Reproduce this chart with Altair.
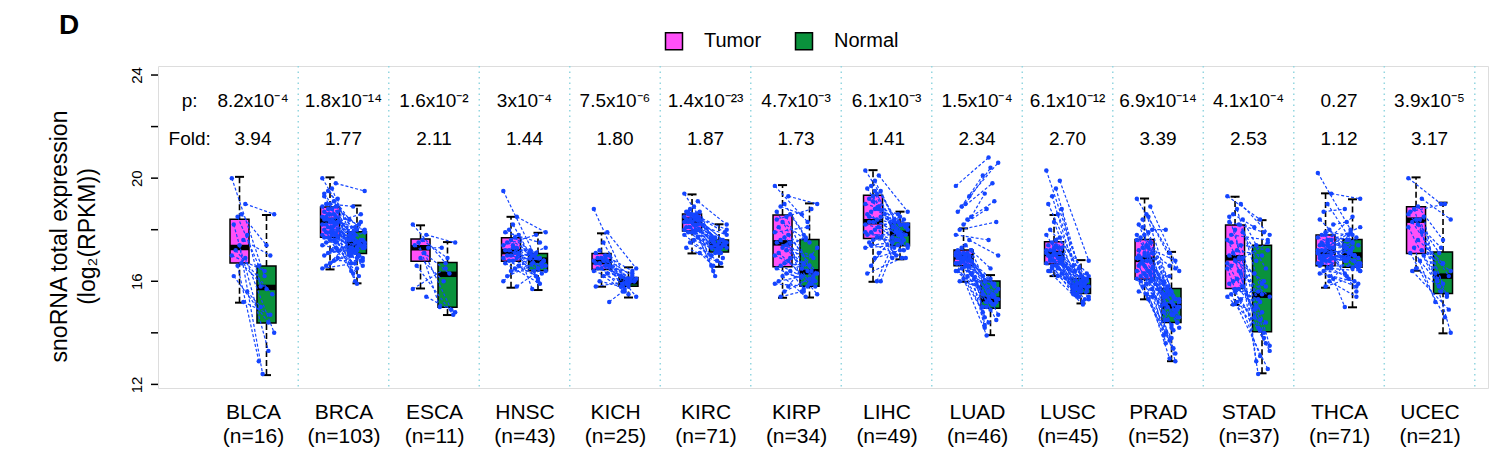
import altair as alt
import pandas as pd

# ---------------- data ----------------
CATS = ["BLCA", "BRCA", "ESCA", "HNSC", "KICH", "KIRC", "KIRP",
        "LIHC", "LUAD", "LUSC", "PRAD", "STAD", "THCA", "UCEC"]
NS = [16, 103, 11, 43, 25, 71, 34, 49, 46, 45, 52, 37, 71, 21]
P_TXT = ["8.2x10⁻⁴", "1.8x10⁻¹⁴", "1.6x10⁻²", "3x10⁻⁴", "7.5x10⁻⁶", "1.4x10⁻²³",
         "4.7x10⁻³", "6.1x10⁻³", "1.5x10⁻⁴", "6.1x10⁻¹²", "6.9x10⁻¹⁴", "4.1x10⁻⁴",
         "0.27", "3.9x10⁻⁵"]
FOLD_TXT = ["3.94", "1.77", "2.11", "1.44", "1.80", "1.87", "1.73",
            "1.41", "2.34", "2.70", "3.39", "2.53", "1.12", "3.17"]
Y_TICKS = [12, 14, 16, 18, 20, 22, 24]
Y_LABELED = [12, 16, 20, 24]
PANEL = "D"

# box statistics (whisker low, q1, median, q3, whisker high)
T_LO = [15.17, 16.46, 15.72, 15.75, 15.79, 17.08, 15.36, 15.98, 15.98, 16.20, 15.30, 15.08, 15.75, 16.41]
T_Q1 = [16.71, 17.71, 16.78, 16.78, 16.46, 17.95, 16.56, 17.66, 16.60, 16.67, 16.08, 15.72, 16.60, 17.08]
T_MED = [17.31, 18.36, 17.30, 17.15, 16.76, 18.37, 17.49, 18.31, 16.95, 17.08, 16.85, 16.91, 17.14, 18.37]
T_Q3 = [18.41, 18.88, 17.64, 17.69, 17.08, 18.61, 18.57, 19.34, 17.21, 17.53, 17.62, 18.18, 17.79, 18.89]
T_HI = [20.05, 20.03, 18.17, 18.50, 17.86, 19.37, 19.73, 20.31, 18.05, 18.57, 19.21, 19.28, 19.41, 20.03]
N_LO = [12.36, 15.92, 14.69, 15.66, 15.37, 16.56, 15.37, 16.85, 13.91, 15.14, 12.90, 12.43, 14.99, 13.98]
N_Q1 = [14.38, 17.08, 14.99, 16.41, 15.81, 17.14, 15.81, 17.38, 14.95, 15.53, 14.40, 14.04, 16.54, 15.53]
N_MED = [15.76, 17.43, 16.27, 16.82, 15.98, 17.40, 16.37, 17.86, 15.30, 15.79, 15.04, 15.46, 17.02, 16.20]
N_Q3 = [16.59, 17.92, 16.73, 17.08, 16.15, 17.60, 17.62, 18.25, 16.01, 16.11, 15.72, 17.40, 17.62, 17.14]
N_HI = [18.57, 18.94, 17.52, 17.88, 16.54, 18.21, 19.02, 18.70, 16.24, 16.82, 17.14, 18.37, 19.18, 19.05]

# paired samples (tumor, normal)
BLCA_T = [20.0, 19.0, 18.6, 18.5, 18.2, 17.8, 17.6, 17.4, 17.2, 17.0, 16.9, 16.7, 16.6, 16.2, 15.6, 15.2]
BLCA_N = [16.2, 18.6, 17.4, 16.6, 13.3, 15.8, 17.0, 12.4, 15.5, 16.4, 14.0, 15.7, 12.9, 14.4, 15.0, 14.7]
BRCA_T = [20.0, 19.8, 19.6, 19.5, 19.3, 19.2, 19.1, 19.0, 19.0, 18.9, 18.9, 18.8, 18.8, 18.7, 18.7,
          18.6, 18.6, 18.5, 18.5, 18.5, 18.4, 18.4, 18.4, 18.3, 18.3, 18.3, 18.2, 18.2, 18.2, 18.1,
          18.1, 18.0, 18.0, 17.9, 17.9, 17.9, 17.8, 17.8, 17.8, 17.7, 17.7, 17.7, 17.6, 17.6, 17.5,
          17.4, 17.3, 17.2, 17.1, 17.0, 16.9, 16.8, 16.7, 16.6, 16.5, 17.5, 18.0, 18.6, 19.4, 17.2]
BRCA_N = [17.8, 19.5, 17.2, 18.4, 17.0, 16.4, 17.6, 18.9, 17.3, 16.0, 17.9, 17.5, 17.1, 18.2, 16.7,
          17.4, 17.7, 16.9, 18.1, 17.3, 15.9, 17.6, 17.4, 17.0, 18.6, 17.2, 16.8, 17.5, 18.0, 17.3,
          17.1, 16.2, 17.7, 17.4, 17.9, 16.6, 17.2, 17.5, 16.5, 17.8, 17.0, 17.3, 18.3, 16.3, 17.6,
          17.1, 17.4, 16.9, 17.2, 17.5, 17.0, 16.8, 17.7, 17.3, 16.7, 17.9, 18.0, 17.6, 17.4, 17.1]
ESCA_T = [18.2, 17.8, 17.6, 17.5, 17.4, 17.3, 17.1, 16.9, 16.6, 15.7, 15.4]
ESCA_N = [16.7, 17.5, 16.9, 15.0, 16.3, 17.3, 14.9, 16.0, 14.7, 16.5, 14.8]
HNSC_T = [19.5, 18.5, 18.2, 18.0, 17.9, 17.8, 17.7, 17.6, 17.5, 17.4, 17.3, 17.3, 17.2, 17.2, 17.1,
          17.1, 17.0, 17.0, 16.9, 16.9, 16.8, 16.8, 16.7, 16.6, 16.5, 16.4, 16.2, 16.0, 15.8, 17.4]
HNSC_N = [16.9, 17.9, 16.5, 17.1, 17.5, 16.7, 16.3, 17.0, 16.8, 17.8, 16.4, 16.0, 17.2, 16.9, 15.7,
          16.6, 17.0, 16.8, 16.2, 17.3, 16.5, 16.9, 15.9, 17.0, 16.7, 16.4, 16.8, 17.1, 16.6, 16.1]
KICH_T = [18.8, 17.9, 17.5, 17.2, 17.1, 17.0, 17.0, 16.9, 16.9, 16.8, 16.8, 16.8, 16.7, 16.7, 16.6,
          16.6, 16.5, 16.5, 16.4, 16.3, 16.2, 16.0, 15.8, 15.2, 16.9]
KICH_N = [16.0, 16.5, 15.8, 16.2, 16.1, 15.9, 16.4, 15.7, 16.0, 16.1, 15.4, 15.9, 16.2, 16.0, 15.8,
          16.3, 15.6, 16.0, 15.9, 16.1, 15.5, 15.8, 16.0, 15.6, 16.2]
KIRC_T = [19.4, 19.1, 18.9, 18.8, 18.7, 18.7, 18.6, 18.6, 18.6, 18.5, 18.5, 18.5, 18.4, 18.4, 18.4,
          18.4, 18.3, 18.3, 18.3, 18.2, 18.2, 18.1, 18.1, 18.0, 18.0, 17.9, 17.9, 17.8, 17.7, 17.6,
          17.5, 17.3, 17.1, 18.5, 18.3, 18.7, 18.0, 18.4, 17.9, 18.6]
KIRC_N = [17.4, 18.2, 17.3, 17.6, 17.1, 17.5, 16.9, 17.7, 17.4, 17.2, 18.0, 17.5, 16.6, 17.3, 17.6,
          17.4, 16.2, 17.5, 17.2, 17.8, 17.3, 17.0, 17.6, 16.4, 17.4, 17.1, 17.5, 16.8, 17.3, 17.2,
          17.0, 16.7, 16.6, 17.6, 17.4, 17.9, 17.2, 17.5, 17.1, 17.3]
KIRP_T = [19.7, 19.3, 19.0, 18.9, 18.7, 18.6, 18.5, 18.3, 18.1, 17.9, 17.8, 17.7, 17.6, 17.5, 17.5,
          17.4, 17.3, 17.1, 17.0, 16.8, 16.7, 16.6, 16.5, 16.4, 16.3, 16.2, 16.0, 15.9, 15.8, 15.6,
          15.4, 18.4, 16.9, 17.2]
KIRP_N = [18.3, 19.0, 17.5, 18.6, 16.4, 17.8, 16.2, 17.6, 16.0, 18.1, 16.3, 15.9, 16.5, 17.0, 15.6,
          16.1, 17.7, 15.8, 16.4, 15.5, 16.6, 16.2, 15.9, 15.7, 16.0, 15.4, 16.3, 15.8, 17.3, 16.1,
          15.6, 18.8, 16.7, 16.9]
LIHC_T = [20.3, 20.1, 19.9, 19.7, 19.6, 19.5, 19.4, 19.3, 19.2, 19.0, 18.9, 18.8, 18.7, 18.6, 18.5,
          18.4, 18.3, 18.3, 18.2, 18.1, 18.0, 17.9, 17.8, 17.7, 17.7, 17.6, 17.5, 17.3, 17.1, 16.9,
          16.6, 16.3, 16.0, 16.0, 19.1, 18.5, 17.9, 18.8, 19.5, 17.4]
LIHC_N = [18.3, 18.7, 17.9, 18.1, 17.5, 18.4, 17.2, 18.0, 17.8, 18.6, 17.4, 18.2, 16.9, 17.7, 18.3,
          17.6, 17.0, 18.1, 17.9, 17.3, 18.5, 17.5, 17.8, 17.1, 18.2, 17.6, 16.9, 17.4, 18.0, 17.2,
          17.7, 16.9, 17.3, 18.4, 17.9, 18.1, 17.6, 18.2, 17.8, 17.5]
LUAD_T = [19.7, 19.3, 19.0, 18.9, 18.7, 18.5, 18.4, 18.2, 18.0, 17.8, 17.6, 17.4, 17.3, 17.2, 17.2,
          17.1, 17.1, 17.0, 17.0, 17.0, 16.9, 16.9, 16.9, 16.8, 16.8, 16.8, 16.7, 16.7, 16.6, 16.6,
          16.5, 16.4, 16.3, 16.2, 16.1, 16.0, 17.1, 16.9, 17.0, 16.8, 16.7, 17.2, 16.6, 16.9, 17.1, 16.4]
LUAD_N = [20.8, 20.6, 20.4, 20.1, 19.8, 19.4, 19.1, 18.8, 18.3, 17.6, 17.0, 16.5, 16.2, 15.9, 16.0,
          15.4, 15.8, 15.2, 15.6, 15.3, 14.9, 15.5, 15.1, 14.6, 15.9, 15.0, 15.3, 14.4, 15.7, 15.2,
          14.8, 15.4, 14.2, 15.1, 13.9, 15.6, 15.3, 14.7, 16.1, 15.0, 15.5, 14.3, 15.8, 15.2, 14.5, 15.4]
LUSC_T = [20.3, 19.9, 19.6, 19.3, 19.0, 18.8, 18.6, 18.3, 18.0, 17.8, 17.7, 17.6, 17.5, 17.4, 17.3,
          17.3, 17.2, 17.2, 17.1, 17.1, 17.0, 17.0, 17.0, 16.9, 16.9, 16.8, 16.8, 16.7, 16.7, 16.6,
          16.5, 16.4, 16.3, 16.2, 17.1, 16.9, 17.2, 16.8, 17.4, 16.6, 17.0, 16.7, 16.5, 17.3, 16.4]
LUSC_N = [16.5, 16.8, 16.2, 16.6, 16.0, 16.4, 16.1, 15.9, 16.3, 15.7, 15.8, 16.0, 15.6, 15.9, 15.5,
          15.8, 15.4, 16.1, 15.7, 15.3, 15.9, 15.6, 15.2, 15.8, 16.0, 15.5, 15.7, 15.4, 16.2, 15.6,
          15.8, 15.1, 15.5, 15.9, 15.7, 16.0, 15.6, 15.4, 15.8, 15.5, 16.1, 15.7, 15.3, 15.9, 15.6]
PRAD_T = [19.2, 18.9, 18.6, 18.4, 18.2, 18.0, 17.9, 17.8, 17.7, 17.6, 17.5, 17.4, 17.3, 17.2, 17.1,
          17.0, 17.0, 16.9, 16.9, 16.8, 16.8, 16.7, 16.6, 16.5, 16.4, 16.3, 16.2, 16.1, 16.0, 15.9,
          15.8, 15.6, 15.4, 15.3, 17.1, 16.7, 16.4, 17.5, 16.2, 18.1, 16.9, 15.7, 17.3, 16.6, 16.0,
          17.8, 16.3, 15.5, 16.8, 17.0, 16.1, 18.5]
PRAD_N = [17.1, 16.4, 15.6, 16.0, 14.9, 18.0, 15.3, 15.8, 14.6, 16.6, 15.0, 14.2, 15.5, 13.4, 15.1,
          14.8, 15.7, 14.4, 13.0, 15.2, 14.7, 15.9, 14.1, 15.4, 12.9, 14.5, 15.0, 13.7, 15.3, 14.3,
          13.9, 15.1, 14.0, 13.2, 15.6, 14.9, 16.2, 14.6, 15.2, 14.8, 15.4, 13.6, 16.8, 15.0, 14.4,
          15.5, 14.2, 13.8, 15.1, 14.7, 14.5, 16.5]
STAD_T = [19.3, 19.0, 18.8, 18.6, 18.5, 18.4, 18.2, 18.0, 17.8, 17.6, 17.4, 17.2, 17.1, 17.0, 16.9,
          16.9, 16.8, 16.6, 16.5, 16.3, 16.1, 16.0, 15.9, 15.8, 15.7, 15.6, 15.5, 15.4, 15.3, 15.2,
          15.1, 18.3, 17.9, 16.4, 15.7, 17.5, 16.7]
STAD_N = [18.4, 17.8, 15.5, 18.1, 14.0, 17.4, 16.5, 12.4, 17.6, 15.2, 13.5, 17.0, 14.6, 16.0, 12.9,
          15.8, 14.2, 17.5, 13.1, 15.4, 14.8, 16.3, 13.8, 15.0, 14.4, 15.6, 12.6, 14.1, 13.3, 15.9,
          14.9, 17.9, 16.8, 13.6, 15.3, 17.2, 14.5]
THCA_T = [20.2, 19.4, 19.0, 18.7, 18.4, 18.2, 18.0, 17.9, 17.8, 17.7, 17.6, 17.5, 17.4, 17.4, 17.3,
          17.3, 17.2, 17.2, 17.1, 17.1, 17.0, 17.0, 16.9, 16.9, 16.8, 16.8, 16.7, 16.7, 16.6, 16.5,
          16.4, 16.3, 16.1, 16.0, 15.8, 17.5, 17.2, 16.9, 17.6, 17.0, 16.6, 17.3, 16.2, 17.8, 16.8,
          17.1, 16.5, 17.4, 16.9, 17.0]
THCA_N = [18.0, 19.2, 17.5, 18.8, 17.0, 18.3, 16.6, 17.8, 16.9, 17.2, 18.1, 16.5, 17.4, 16.8, 17.6,
          15.6, 17.1, 16.7, 17.9, 16.4, 17.3, 15.0, 17.0, 16.2, 17.7, 16.9, 15.9, 17.2, 16.6, 17.5,
          16.3, 16.0, 16.8, 15.4, 16.1, 17.4, 17.1, 16.7, 18.5, 16.9, 17.0, 17.3, 15.8, 17.6, 16.5,
          17.2, 16.4, 17.8, 16.8, 17.0]
UCEC_T = [20.0, 19.2, 18.9, 18.8, 18.7, 18.5, 18.4, 18.4, 18.3, 18.1, 17.9, 17.6, 17.3, 17.1, 17.0,
          16.8, 16.5, 16.4, 18.6, 17.2, 18.2]
UCEC_N = [19.0, 18.4, 17.6, 16.3, 19.0, 16.0, 15.4, 17.1, 16.2, 15.6, 14.0, 16.7, 15.2, 14.6, 16.1,
          15.5, 15.8, 14.9, 17.3, 16.4, 15.9]

PAIRS = [(BLCA_T, BLCA_N), (BRCA_T, BRCA_N), (ESCA_T, ESCA_N), (HNSC_T, HNSC_N),
         (KICH_T, KICH_N), (KIRC_T, KIRC_N), (KIRP_T, KIRP_N), (LIHC_T, LIHC_N),
         (LUAD_T, LUAD_N), (LUSC_T, LUSC_N), (PRAD_T, PRAD_N), (STAD_T, STAD_N),
         (THCA_T, THCA_N), (UCEC_T, UCEC_N)]

# ---------------- layout constants ----------------
W, H = 1330, 322
X_DOM = [-1.0497, 13.646]
Y_DOM = [11.86, 24.35]
OFF = 0.149      # box centre offset from category centre
HALF = 0.105     # half box width
CAP = 0.05       # half whisker cap width
JIT = 0.085      # jitter half width
P_ROW, FOLD_ROW = 22.99, 21.52
LABEL_X = -0.70
TICK_LEN = 7
MAG, GRN, BLUE = "#FF50F8", "#0A923C", "#1445FF"
FONT = "Liberation Sans"
GROUPS = ["Tumor", "Normal"]

# ---------------- tables ----------------
box_rows = []
for i, c in enumerate(CATS):
    for g, sgn, lo, q1, md, q3, hi in [
        ("Tumor", -1, T_LO[i], T_Q1[i], T_MED[i], T_Q3[i], T_HI[i]),
        ("Normal", 1, N_LO[i], N_Q1[i], N_MED[i], N_Q3[i], N_HI[i]),
    ]:
        xc = i + sgn * OFF
        box_rows.append(dict(cat=c, group=g, xc=xc, xl=xc - HALF, xr=xc + HALF,
                             cl=xc - CAP, cr=xc + CAP,
                             lo=lo, q1=q1, med=md, q3=q3, hi=hi))
boxes = pd.DataFrame(box_rows)

pt_rows = []
for i, (tv, nv) in enumerate(PAIRS):
    for k, (t, n) in enumerate(zip(tv, nv)):
        jt = ((k * 7) % 9 - 4) / 4 * JIT
        jn = ((k * 5 + 3) % 9 - 4) / 4 * JIT
        pid = f"{CATS[i]}_{k}"
        pt_rows.append(dict(pid=pid, group="Tumor", x=i - OFF + jt, v=t))
        pt_rows.append(dict(pid=pid, group="Normal", x=i + OFF + jn, v=n))
pts = pd.DataFrame(pt_rows)

ann = pd.DataFrame({"x": list(range(len(CATS))), "p": P_TXT, "fold": FOLD_TXT})
ann_lab = pd.DataFrame({"x": [LABEL_X, LABEL_X], "y": [P_ROW, FOLD_ROW], "t": ["p:", "Fold:"]})
seps = pd.DataFrame({"x": [i + 0.5 for i in range(len(CATS))]})
yticks = pd.DataFrame({"t": Y_TICKS})
panel = pd.DataFrame({"t": [PANEL]})

label_expr = "[" + ",".join(f"['{c}','(n={n})']" for c, n in zip(CATS, NS)) + "][round(datum.value)]"

xscale = alt.Scale(domain=X_DOM, nice=False, zero=False)
yscale = alt.Scale(domain=Y_DOM, nice=False, zero=False)
xaxis = alt.Axis(values=list(range(len(CATS))), labelExpr=label_expr, ticks=False, domain=False,
                 grid=False, title=None, labelFontSize=21, labelLineHeight=24, labelPadding=13,
                 labelFont=FONT, labelColor="black", labelOverlap=False, labelFlush=False,
                 labelBaseline="top")
yaxis = alt.Axis(values=Y_LABELED, grid=False, domain=False, ticks=False,
                 labelAngle=270, labelAlign="center", labelBaseline="bottom",
                 labelPadding=14, labelFontSize=15,
                 labelFont=FONT, labelColor="black", labelOverlap=False, labelFlush=False,
                 title=["snoRNA total expression", "(log₂(RPKM))"], titleFont=FONT,
                 titleFontSize=23, titleFontWeight="normal", titleColor="black",
                 titleAngle=270, titleAlign="center", titleBaseline="top",
                 titleX=-110, titleY=170, titleLineHeight=28)


def X(f):
    return alt.X(f, type="quantitative", scale=xscale, axis=xaxis)


def Y(f):
    return alt.Y(f, type="quantitative", scale=yscale, axis=yaxis)


sep_layer = alt.Chart(seps).mark_rule(color="#93D6E0", strokeWidth=1.5, strokeDash=[1.5, 4]).encode(
    x=X("x"))

tick_layer = alt.Chart(yticks).mark_rule(color="black", strokeWidth=1.5).encode(
    x=alt.value(-TICK_LEN), x2=alt.value(0), y=Y("t"))

box_layer = alt.Chart(boxes).mark_rect(stroke="black", strokeWidth=1.5).encode(
    x=X("xl"), x2="xr", y=Y("q1"), y2="q3",
    fill=alt.Fill("group:N", scale=alt.Scale(domain=GROUPS, range=[MAG, GRN]),
                  legend=alt.Legend(title=None, orient="none", legendX=506, legendY=-35,
                                    direction="horizontal", symbolType="square",
                                    symbolSize=289, symbolStrokeColor="black",
                                    symbolStrokeWidth=1.5, symbolOpacity=1,
                                    labelFontSize=20, labelFont=FONT, labelColor="black",
                                    labelOffset=20, columnPadding=30, padding=0)))

wh_lo = alt.Chart(boxes).mark_rule(color="black", strokeWidth=1.6, strokeDash=[6, 3]).encode(
    x=X("xc"), y=Y("lo"), y2="q1")
wh_hi = alt.Chart(boxes).mark_rule(color="black", strokeWidth=1.6, strokeDash=[6, 3]).encode(
    x=X("xc"), y=Y("q3"), y2="hi")
cap_lo = alt.Chart(boxes).mark_rule(color="black", strokeWidth=2).encode(
    x=X("cl"), x2="cr", y=Y("lo"))
cap_hi = alt.Chart(boxes).mark_rule(color="black", strokeWidth=2).encode(
    x=X("cl"), x2="cr", y=Y("hi"))
med_layer = alt.Chart(boxes).mark_rule(color="black", strokeWidth=5.5, strokeCap="butt").encode(
    x=X("xl"), x2="xr", y=Y("med"))

line_layer = alt.Chart(pts).mark_line(color=BLUE, strokeWidth=1.2, strokeDash=[3, 2]).encode(
    x=X("x"), y=Y("v"), detail="pid:N")
pt_layer = alt.Chart(pts).mark_circle(color=BLUE, size=20, opacity=1).encode(
    x=X("x"), y=Y("v"))

p_layer = alt.Chart(ann).mark_text(fontSize=19, font=FONT, color="black", baseline="middle").encode(
    x=X("x"), y=alt.Y(datum=P_ROW, type="quantitative", scale=yscale, axis=yaxis), text="p:N")
f_layer = alt.Chart(ann).mark_text(fontSize=19, font=FONT, color="black", baseline="middle").encode(
    x=X("x"), y=alt.Y(datum=FOLD_ROW, type="quantitative", scale=yscale, axis=yaxis), text="fold:N")
lab_layer = alt.Chart(ann_lab).mark_text(fontSize=19, font=FONT, color="black", baseline="middle").encode(
    x=X("x"), y=Y("y"), text="t:N")
panel_layer = alt.Chart(panel).mark_text(fontSize=28, fontWeight="bold", font=FONT, color="black",
                                         align="left", baseline="alphabetic").encode(
    x=alt.value(-99), y=alt.value(-32), text="t:N")

chart = alt.layer(
    sep_layer, tick_layer, wh_lo, wh_hi, cap_lo, cap_hi, box_layer, med_layer,
    line_layer, pt_layer, p_layer, f_layer, lab_layer, panel_layer
).properties(
    width=W, height=H,
    padding={"left": 150, "top": 58, "right": 14, "bottom": 66},
    autosize=alt.AutoSizeParams(type="none"),
).configure_view(
    stroke="black", strokeWidth=3.5
).configure(background="white")

chart.save("out.html", embed_options={"renderer": "svg", "actions": False})
